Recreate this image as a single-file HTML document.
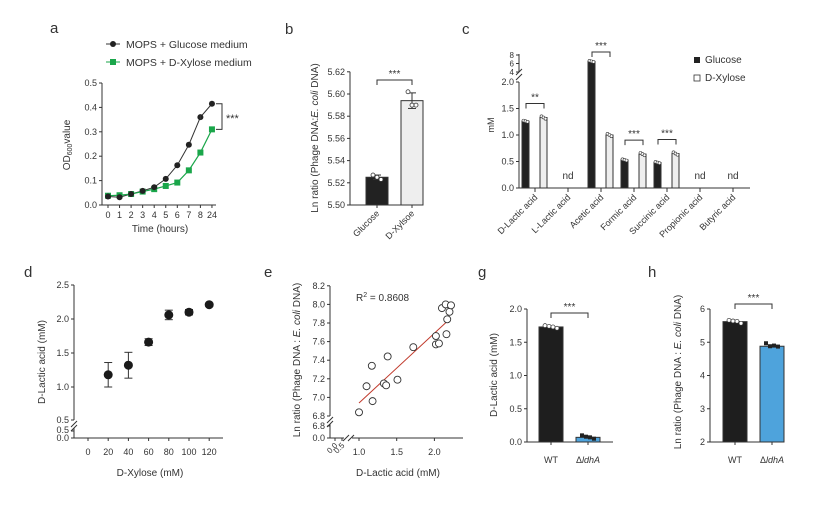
<!DOCTYPE html>
<html><head><meta charset="utf-8"><style>
html,body{margin:0;padding:0;background:#fff;}
svg{display:block;font-family:"Liberation Sans",Arial,sans-serif;}
text{fill:#333;}
</style></head><body>
<svg id="fig" width="820" height="517" viewBox="0 0 820 517" xmlns="http://www.w3.org/2000/svg"></svg>
<script>
// ---------- DATA ----------
const aHours = ['0','1','2','3','4','5','6','7','8','24'];
const aGlucose = [0.035,0.032,0.045,0.058,0.073,0.107,0.163,0.247,0.36,0.415];
const aXylose = [0.038,0.040,0.045,0.055,0.065,0.078,0.092,0.142,0.215,0.31];
const aTicks = [0,0.1,0.2,0.3,0.4,0.5];

const bCats = ['Glucose','D-Xylsoe'];
const bMeans = [5.525,5.594];
const bErr = [0.002,0.007];
const bDotsGlc = [5.527,5.525,5.523];
const bDotsXyl = [5.602,5.590,5.590];
const bTicks = [5.50,5.52,5.54,5.56,5.58,5.60,5.62];

const cCats = ['D-Lactic acid','L-Lactic acid','Acetic acid','Formic acid','Succinic acid','Propionic acid','Butyric acid'];
const cGlucose = [1.26,null,6.5,0.53,0.48,null,null];
const cXylose = [1.33,null,1.0,0.64,0.65,null,null];
const cSig = ['**','','***','***','***','',''];
const cTicksLow = [0,0.5,1.0,1.5,2.0];
const cTicksHigh = [4,6,8];

const dXylose = [20,40,60,80,100,120];
const dLactic = [1.18,1.32,1.66,2.06,2.10,2.21];
const dErr = [0.18,0.19,0.05,0.07,0.04,0.02];
const dXTicks = [0,20,40,60,80,100,120];
const dYTicks = [1.0,1.5,2.0,2.5];

const eLactic = [1.0,1.1,1.17,1.18,1.33,1.36,1.38,1.51,1.72,2.02,2.02,2.06,2.10,2.15,2.17,2.16,2.20,2.22];
const eRatio = [6.84,7.12,7.34,6.96,7.15,7.13,7.44,7.19,7.54,7.66,7.57,7.58,7.96,8.00,7.84,7.68,7.92,7.99];
const eFitX = [1.0,2.2];
const eFitY = [6.94,7.84];
const eXTicks = [1.0,1.5,2.0];
const eYTicks = [6.8,7.0,7.2,7.4,7.6,7.8,8.0,8.2];

const gCats = ['WT','ΔldhA'];
const gMeans = [1.73,0.07];
const gDotsWT = [1.75,1.74,1.73,1.71];
const gDotsKO = [0.10,0.08,0.07,0.05];
const gTicks = [0,0.5,1.0,1.5,2.0];

const hMeans = [5.62,4.88];
const hDotsWT = [5.66,5.64,5.63,5.57];
const hDotsKO = [4.97,4.88,4.90,4.87];
const hTicks = [2,3,4,5,6];

// ---------- HELPERS ----------
const NS='http://www.w3.org/2000/svg';
const svg=document.getElementById('fig');
function el(tag,attrs,parent,txt){const e=document.createElementNS(NS,tag);for(const k in attrs)e.setAttribute(k,attrs[k]);if(txt!==undefined)e.textContent=txt;(parent||svg).appendChild(e);return e;}
function grp(name){const g=el('g',{});return g;}
function line(p,x1,y1,x2,y2,c,w){return el('line',{x1,y1,x2,y2,stroke:c||'#333','stroke-width':w||1},p);}
function txt(p,x,y,s,o){o=o||{};const t=el('text',{x,y,'font-size':o.fs||9,'text-anchor':o.a||'middle',fill:o.fill||'#333'},p,s);if(o.rot!==undefined)t.setAttribute('transform',`rotate(${o.rot} ${x} ${y})`);if(o.fw)t.setAttribute('font-weight',o.fw);return t;}
function label(x,y,s){const t=txt(svg,x,y,s,{fs:15,a:'start'});}
function bracket(p,x1,x2,y,stars){el('path',{d:`M${x1} ${y+5}V${y}H${x2}V${y+5}`,fill:'none',stroke:'#333','stroke-width':1},p);txt(p,(x1+x2)/2,y-3,stars,{fs:10});}
function breakMark(p,x,y){line(p,x-3,y+3,x+3,y-3,'#333',1);}

// ---------- PANEL A ----------
label(50,33,'a');
{const g=grp('panel-a-growth-curve');
const X=i=>108+i*11.55, Y=v=>205-v*244;
line(g,102,Y(0.5),102,205);line(g,102,205,216,205);
aTicks.forEach(t=>{line(g,99,Y(t),102,Y(t));txt(g,97,Y(t)+3,t.toFixed(1),{a:'end'});});
aHours.forEach((h,i)=>{line(g,X(i),205,X(i),208);txt(g,X(i),218,h);});
txt(g,160,232,'Time (hours)',{fs:10});
const yl=el('text',{x:0,y:0,'font-size':10,'text-anchor':'middle',transform:'translate(70 145) rotate(-90)'},g);
yl.innerHTML='OD<tspan font-size="7" dy="2">600</tspan><tspan dy="-2">value</tspan>';
const lg=el('polyline',{points:aGlucose.map((v,i)=>X(i)+','+Y(v)).join(' '),fill:'none',stroke:'#333','stroke-width':1},g);

const lx=el('polyline',{points:aXylose.map((v,i)=>X(i)+','+Y(v)).join(' '),fill:'none',stroke:'#1aa64a','stroke-width':1.2},g);

aXylose.forEach((v,i)=>{const r=el('rect',{x:X(i)-3,y:Y(v)-3,width:6,height:6,fill:'#1aa64a'},g);});
aGlucose.forEach((v,i)=>{const c=el('circle',{cx:X(i),cy:Y(v),r:3,fill:'#222'},g);});
line(g,X(8),Y(0.37),X(8),Y(0.35));
el('path',{d:`M${X(9)+4} ${Y(0.415)}H222V${Y(0.31)}H${X(9)+4}`,fill:'none',stroke:'#333'},g);
txt(g,226,Y(0.36)+5,'***',{fs:11,a:'start'});
const L=grp('panel-a-legend');
line(L,106,44,120,44,'#333');el('circle',{cx:113,cy:44,r:3,fill:'#222'},L);
txt(L,126,48,'MOPS + Glucose medium',{fs:10.5,a:'start'});
line(L,106,62,120,62,'#1aa64a');el('rect',{x:110,y:59,width:6,height:6,fill:'#1aa64a'},L);
txt(L,126,66,'MOPS + D-Xylose medium',{fs:10.5,a:'start'});
}

// ---------- PANEL B ----------
label(285,34,'b');
{const g=grp('panel-b-ln-ratio');
const Y=v=>205-(v-5.50)/0.02*22.2, XC=[377,412];
line(g,350,Y(5.62),350,205);line(g,350,205,423,205);
bTicks.forEach(t=>{line(g,347,Y(t),350,Y(t));txt(g,345,Y(t)+3,t.toFixed(2),{a:'end'});});
const fills=['#222','#eeeeee'];
bMeans.forEach((m,i)=>{const r=el('rect',{x:XC[i]-11,y:Y(m),width:22,height:205-Y(m),fill:fills[i],stroke:'#333','stroke-width':1},g);
line(g,XC[i],Y(m+bErr[i]),XC[i],Y(m-bErr[i]));line(g,XC[i]-4,Y(m+bErr[i]),XC[i]+4,Y(m+bErr[i]));line(g,XC[i]-4,Y(m-bErr[i]),XC[i]+4,Y(m-bErr[i]));
line(g,XC[i],205,XC[i],208);txt(g,XC[i]+3,214,bCats[i],{rot:-45,a:'end'});});
[bDotsGlc,bDotsXyl].forEach((ds,i)=>ds.forEach((d,j)=>el('circle',{cx:XC[i]-4+j*4,cy:Y(d),r:2,fill:'#fff',stroke:'#333','stroke-width':0.8},g)));
bracket(g,377,412,80,'***');
const yl=el('text',{'font-size':10,'text-anchor':'middle',transform:'translate(318 138) rotate(-90)'},g);
yl.innerHTML='Ln ratio (Phage DNA:<tspan font-style="italic">E. coli</tspan> DNA)';
}

// ---------- PANEL C ----------
label(462,34,'c');
{const g=grp('panel-c-acids');
const Y=v=>v<=2.05?188-v*53:72-(v-4)*4.25;
const X=i=>535+i*33;
line(g,519,82,519,188);line(g,519,54,519,72);breakMark(g,519,77);breakMark(g,519,72);
line(g,519,188,750,188);
cTicksLow.forEach(t=>{line(g,516,Y(t),519,Y(t));txt(g,514,Y(t)+3,t.toFixed(1),{a:'end'});});
cTicksHigh.forEach(t=>{line(g,516,Y(t),519,Y(t));txt(g,514,Y(t)+3,String(t),{a:'end',fs:8});});
txt(g,494,125,'mM',{rot:-90,fs:9});
cCats.forEach((c,i)=>{const x=X(i);line(g,x,188,x,192);txt(g,x+3,198,c,{rot:-45,a:'end'});
if(cGlucose[i]===null){txt(g,x,179,'nd',{fs:10});return;}
const r1=el('rect',{x:x-13,y:Y(cGlucose[i]),width:7,height:188-Y(cGlucose[i]),fill:'#222',stroke:'#333'},g);
const r2=el('rect',{x:x+5,y:Y(cXylose[i]),width:7,height:188-Y(cXylose[i]),fill:'#eee',stroke:'#333'},g);
[-2,0,2].forEach(o=>{el('circle',{cx:x-9.5+o,cy:Y(cGlucose[i])+o*0.3,r:1.5,fill:'#fff',stroke:'#333','stroke-width':0.6},g);el('circle',{cx:x+8.5+o,cy:Y(cXylose[i])+o*0.6,r:1.5,fill:'#fff',stroke:'#333','stroke-width':0.6},g);});
const by=(cGlucose[i]>4?52:Math.min(Y(cGlucose[i]),Y(cXylose[i]))-14);
bracket(g,x-9,x+9,by,cSig[i]);});
const L=grp('panel-c-legend');
el('rect',{x:694,y:57,width:6,height:6,fill:'#222'},L);txt(L,705,63,'Glucose',{fs:10,a:'start'});
el('rect',{x:694,y:75,width:6,height:6,fill:'#fff',stroke:'#333','stroke-width':0.8},L);txt(L,705,81,'D-Xylose',{fs:10,a:'start'});
}

// ---------- PANEL D ----------
label(24,277,'d');
{const g=grp('panel-d-scatter');
const X=v=>88+v*1.01;
const Yd=v=>387-(v-1)/0.5*34;
line(g,74,285,74,420);line(g,74,428,74,438);breakMark(g,74,424);breakMark(g,74,428);
line(g,74,438,223,438);
dYTicks.forEach(t=>{line(g,71,Yd(t),74,Yd(t));txt(g,69,Yd(t)+3,t.toFixed(1),{a:'end'});});
line(g,71,420,74,420);txt(g,69,423,'0.5',{a:'end'});
line(g,71,431,74,431);txt(g,69,433,'0.5',{a:'end'});
line(g,71,438,74,438);txt(g,69,441,'0.0',{a:'end'});
dXTicks.forEach(t=>{line(g,X(t),438,X(t),441);txt(g,X(t),455,String(t));});
txt(g,150,476,'D-Xylose (mM)',{fs:10});
txt(g,45,362,'D-Lactic acid (mM)',{rot:-90,fs:10});
dXylose.forEach((x,i)=>{const cx=X(x),m=dLactic[i],e=dErr[i];
line(g,cx,Yd(m+e),cx,Yd(m-e));line(g,cx-4,Yd(m+e),cx+4,Yd(m+e));line(g,cx-4,Yd(m-e),cx+4,Yd(m-e));
const c=el('circle',{cx,cy:Yd(m),r:4.5,fill:'#1a1a1a'},g);});
}

// ---------- PANEL E ----------
label(264,277,'e');
{const g=grp('panel-e-correlation');
const X=v=>359+(v-1)*75.4, Y=v=>416-(v-6.8)*93;
line(g,330,286,330,416);line(g,330,424,330,438);breakMark(g,330,420);breakMark(g,330,424);
line(g,330,438,344,438);line(g,352,438,463,438);breakMark(g,346,438);breakMark(g,351,438);
eYTicks.forEach(t=>{line(g,327,Y(t),330,Y(t));txt(g,325,Y(t)+3,t.toFixed(1),{a:'end'});});
line(g,327,426,330,426);txt(g,325,429,'6.8',{a:'end'});
line(g,327,438,330,438);txt(g,325,441,'0.0',{a:'end'});
line(g,335,438,335,441);txt(g,338,446,'0.0',{rot:-45,a:'end',fs:8});
line(g,342,438,342,441);txt(g,345,446,'0.5',{rot:-45,a:'end',fs:8});
eXTicks.forEach(t=>{line(g,X(t),438,X(t),441);txt(g,X(t),455,t.toFixed(1));});
txt(g,398,476,'D-Lactic acid (mM)',{fs:10});
const yl=el('text',{'font-size':10,'text-anchor':'middle',transform:'translate(300 360) rotate(-90)'},g);
yl.innerHTML='Ln ratio (Phage DNA : <tspan font-style="italic">E. coli</tspan> DNA)';
const fl=line(g,X(eFitX[0]),Y(eFitY[0]),X(eFitX[1]),Y(eFitY[1]),'#c0392b',1);
eLactic.forEach((x,i)=>{const c=el('circle',{cx:X(x),cy:Y(eRatio[i]),r:3.5,fill:'#fff',stroke:'#333','stroke-width':0.9},g);});
const r=el('text',{x:356,y:301,'font-size':10,fill:'#c0392b'},g);r.innerHTML='R<tspan font-size="7" dy="-4">2</tspan><tspan dy="4"> = 0.8608</tspan>';
}

// ---------- PANEL G ----------
label(478,277,'g');
{const g=grp('panel-g-lactic');
const Y=v=>442-v*66.5, XC=[551,588];
line(g,527,309,527,442);line(g,527,442,613,442);
gTicks.forEach(t=>{line(g,524,Y(t),527,Y(t));txt(g,522,Y(t)+3,t.toFixed(1),{a:'end'});});
const fills=['#1e1e1e','#4ea3dc'];
gMeans.forEach((m,i)=>{const r=el('rect',{x:XC[i]-12,y:Y(m),width:24,height:442-Y(m),fill:fills[i],stroke:'#333'},g);line(g,XC[i],442,XC[i],445);});
gDotsWT.forEach((d,j)=>el('circle',{cx:XC[0]-6+j*4,cy:Y(d),r:2,fill:'#fff',stroke:'#333','stroke-width':0.7},g));
gDotsKO.forEach((d,j)=>el('rect',{x:XC[1]-8+j*4,y:Y(d)-2,width:4,height:4,fill:'#222'},g));
txt(g,XC[0],463,'WT');
const k=el('text',{x:XC[1],y:463,'font-size':9,'text-anchor':'middle'},g);k.innerHTML='Δ<tspan font-style="italic">ldhA</tspan>';
bracket(g,XC[0],XC[1],313,'***');
txt(g,497,375,'D-Lactic acid (mM)',{rot:-90,fs:10});
}

// ---------- PANEL H ----------
label(648,277,'h');
{const g=grp('panel-h-ln-ratio');
const Y=v=>442-(v-2)*33.25, XC=[735,772];
line(g,710,309,710,442);line(g,710,442,783,442);
hTicks.forEach(t=>{line(g,707,Y(t),710,Y(t));txt(g,705,Y(t)+3,String(t),{a:'end'});});
const fills=['#1e1e1e','#4ea3dc'];
hMeans.forEach((m,i)=>{const r=el('rect',{x:XC[i]-12,y:Y(m),width:24,height:442-Y(m),fill:fills[i],stroke:'#333'},g);line(g,XC[i],442,XC[i],445);});
hDotsWT.forEach((d,j)=>el('circle',{cx:XC[0]-6+j*4,cy:Y(d),r:2,fill:'#fff',stroke:'#333','stroke-width':0.7},g));
hDotsKO.forEach((d,j)=>el('rect',{x:XC[1]-8+j*4,y:Y(d)-2,width:4,height:4,fill:'#222'},g));
txt(g,XC[0],463,'WT');
const k=el('text',{x:XC[1],y:463,'font-size':9,'text-anchor':'middle'},g);k.innerHTML='Δ<tspan font-style="italic">ldhA</tspan>';
bracket(g,XC[0],XC[1],304,'***');
const yl=el('text',{'font-size':10,'text-anchor':'middle',transform:'translate(681 372) rotate(-90)'},g);
yl.innerHTML='Ln ratio (Phage DNA : <tspan font-style="italic">E. coli</tspan> DNA)';
}
</script>
</body></html>
